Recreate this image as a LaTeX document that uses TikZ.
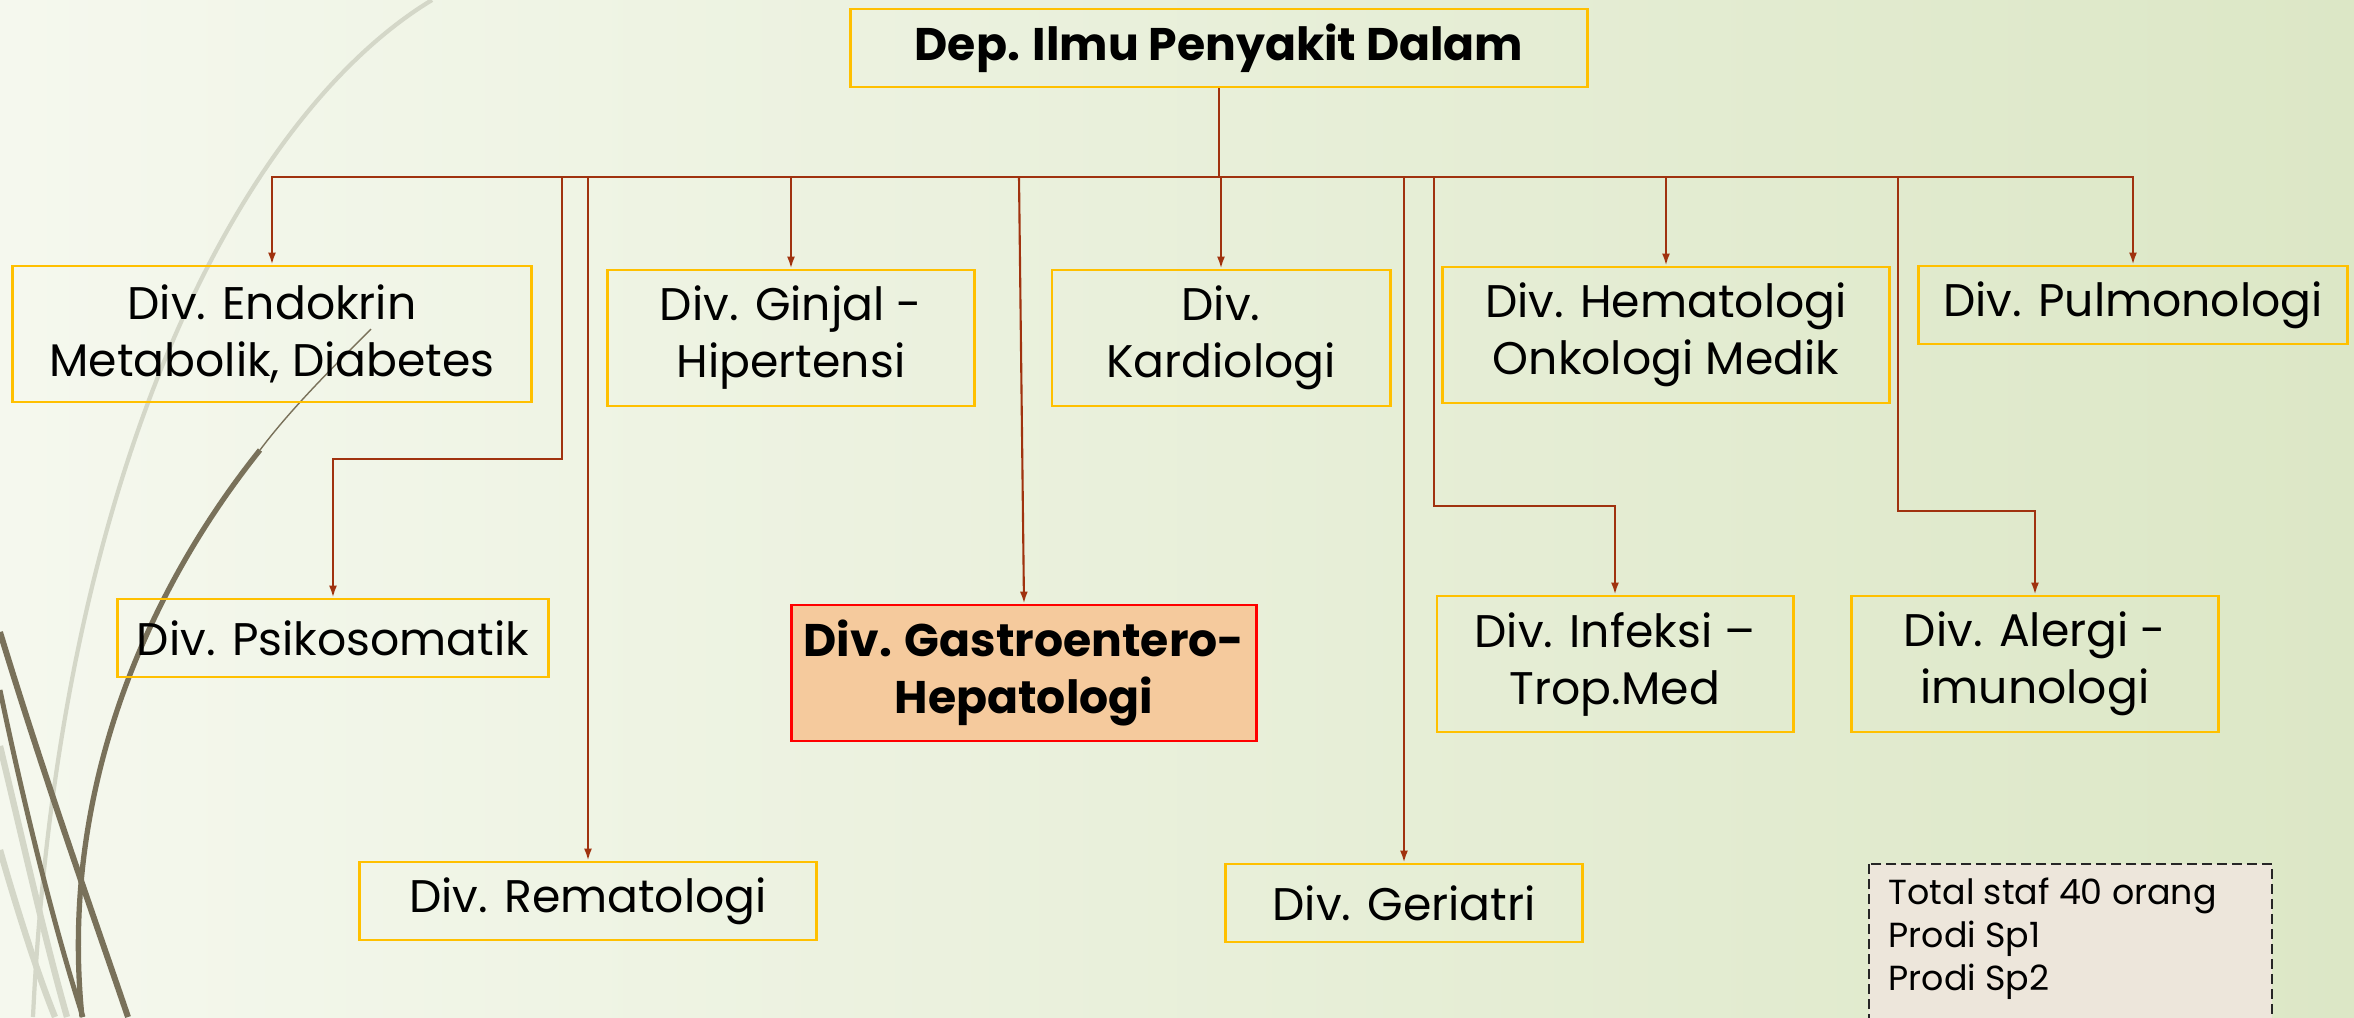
\documentclass[tikz,border=0pt]{standalone}
\usepackage{fontspec}
\setmainfont{Poppins}
\usetikzlibrary{arrows.meta}

\definecolor{bgleft}{HTML}{F5F8EE}
\definecolor{bgright}{HTML}{DCE7C6}
\definecolor{gold}{HTML}{FFC000}
\definecolor{rust}{HTML}{A0320F}
\definecolor{peach}{HTML}{F5CA9D}
\definecolor{olive}{HTML}{79715A}
\definecolor{wisp}{HTML}{D4D7C8}
\definecolor{notefill}{HTML}{EDE6DB}

\tikzset{
  divbox/.style={draw=gold, line width=0.8pt, align=center, inner sep=0pt,
    font=\fontsize{13}{16.2}\selectfont},
  tall/.style={minimum height=1.36cm},
  short/.style={minimum height=0.78cm},
  headbox/.style={divbox, font=\fontsize{13}{16.2}\selectfont\bfseries},
  focusbox/.style={divbox, draw=red, fill=peach, font=\fontsize{13}{16.2}\selectfont\bfseries},
  conn/.style={draw=rust, line width=0.6pt, -{Latex[length=0.12cm,width=0.08cm]}},
  notebox/.style={draw=black!85, fill=notefill, line width=0.75pt, dash pattern=on 0.1cm off 0.05cm},
  notetext/.style={align=left, inner sep=0pt, font=\fontsize{9.9}{12.3}\selectfont}
}

\begin{document}
\begin{tikzpicture}[x=0.01cm, y=-0.01cm]
  \useasboundingbox (0,0) rectangle (2354,1017);
  % background
  \shade[left color=bgleft, right color=bgright] (0,0) rectangle (2354,1017);
  \draw[wisp, line width=1.2pt] (432,0) .. controls (250,110) and (60,450) .. (33,1017);
  \draw[wisp, line width=1.8pt] (0,746) .. controls (25,850) and (45,940) .. (67,1017);
  \draw[wisp, line width=1.8pt] (0,850) .. controls (20,920) and (40,980) .. (55,1017);
  \draw[olive, line width=0.4pt] (371,329) .. controls (330,370) and (290,410) .. (260,450);
  \draw[olive, line width=1.5pt] (260,450) .. controls (140,600) and (60,800) .. (82,1017);
  \draw[olive, line width=1.7pt] (0,632) .. controls (45,780) and (95,920) .. (128,1017);
  \draw[olive, line width=1.4pt] (0,690) .. controls (25,810) and (55,930) .. (83,1017);

  % boxes
  \draw
    (1219,48) node[headbox, short, minimum width=7.36cm] (dep) {Dep. Ilmu Penyakit Dalam}
    (272,334) node[divbox, tall, minimum width=5.19cm] (endo) {Div. Endokrin\\Metabolik, Diabetes}
    (791,338) node[divbox, tall, minimum width=3.67cm] (ginjal) {Div. Ginjal -\\Hipertensi}
    (1221,338) node[divbox, tall, minimum width=3.38cm] (kardio) {Div.\\Kardiologi}
    (1666,335) node[divbox, tall, minimum width=4.47cm] (hemato) {Div. Hematologi\\Onkologi Medik}
    (2133,305) node[divbox, short, minimum width=4.28cm] (pulmo) {Div. Pulmonologi}
    (333,638) node[divbox, short, minimum width=4.30cm] (psiko) {Div. Psikosomatik}
    (1024,673) node[focusbox, tall, minimum width=4.64cm] (gastro) {Div. Gastroentero-\\Hepatologi}
    (1615,664) node[divbox, tall, minimum width=3.56cm] (infeksi) {Div. Infeksi –\\Trop.Med}
    (2035,664) node[divbox, tall, minimum width=3.67cm] (alergi) {Div. Alergi -\\imunologi}
    (588,901) node[divbox, short, minimum width=4.56cm] (remato) {Div. Rematologi}
    (1404,903) node[divbox, short, minimum width=3.57cm] (geri) {Div. Geriatri};

  % staff note
  \draw[notebox] (1869,864) rectangle (2272,1030);
  \node[notetext, anchor=north west] (staf) at (1888,877) {Total staf 40 orang\\Prodi Sp1\\Prodi Sp2};

  % connectors
  \coordinate (bus) at (1219,177);
  \begin{scope}[every path/.style={conn}]
    \draw (dep.south) -- (bus) -| (endo.north);
    \draw (dep.south) -- (bus) -| (ginjal.north);
    \draw (dep.south) -- (bus) -| (kardio.north);
    \draw (dep.south) -- (bus) -| (hemato.north);
    \draw (dep.south) -- (bus) -| (pulmo.north);
    \draw (bus -| 562,0) -- ++(0,282) -| (psiko.north);
    \draw (bus -| remato.north) -- (remato.north);
    \draw (bus -| 1019,0) -- (gastro.north);
    \draw (bus -| geri.north) -- (geri.north);
    \draw (bus -| 1434,0) -- ++(0,329) -| (infeksi.north);
    \draw (bus -| 1898,0) -- ++(0,334) -| (alergi.north);
  \end{scope}
\end{tikzpicture}
\end{document}
